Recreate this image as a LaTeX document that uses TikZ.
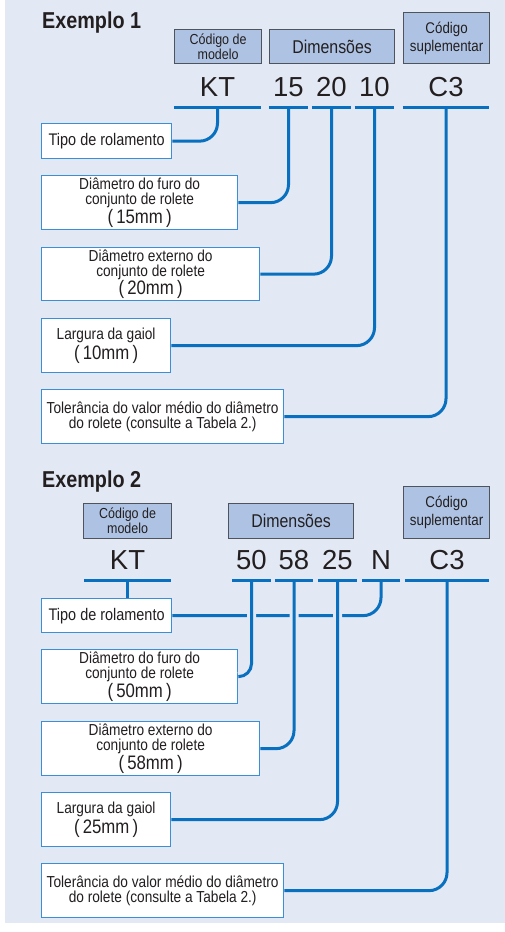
\documentclass[tikz,border=0pt]{standalone}
\usepackage{fontspec}
\setmainfont{Liberation Sans}
\newfontfamily\cond{Liberation Sans}[FakeStretch=0.86]
\definecolor{bgblue}{HTML}{E2E8F4}
\definecolor{hdrfill}{HTML}{AEC3E3}
\definecolor{hdrline}{HTML}{4F535A}
\definecolor{linkblue}{HTML}{0870BE}
\definecolor{boxblue}{HTML}{3B8FD6}
\definecolor{ink}{HTML}{231F20}
\newcommand\mmtext[1]{{\fontsize{19.5}{19.5}\selectfont(\,#1\,)}}

\tikzset{
  hdr/.style={draw=hdrline, fill=hdrfill, line width=1.2pt, inner sep=0pt, align=center,
    text=ink, anchor=north west, font=\cond\fontsize{14.5}{15}\selectfont},
  code/.style={anchor=base, inner xsep=0pt, inner ysep=11pt, text=ink,
    font=\fontsize{27.5}{27.5}\selectfont},
  uline/.style={linkblue, line width=3pt},
  conn/.style={linkblue, line width=3pt, rounded corners=18pt},
  gap/.style={preaction={draw=bgblue, line width=9pt}},
  lbl/.style={draw=boxblue, fill=white, line width=1.3pt, inner sep=0pt, align=center,
    anchor=north west, text=ink, font=\cond\fontsize{15.9}{15}\selectfont},
  title/.style={anchor=base west, inner sep=0pt, text=ink,
    font=\cond\bfseries\fontsize{23}{23}\selectfont}
}

\begin{document}
\begin{tikzpicture}[x=1pt, y=-1pt]
\useasboundingbox (0,0) rectangle (505,932);
%Background
\fill[bgblue] (5,0) rectangle (505,923);

%*** Exemplo 1 ***
\node[title] (ex1) at (42,28) {Exemplo 1};

%Header boxes
\node[hdr, minimum width=87, minimum height=34] (mod1) at (174,29) {Código de\\modelo};
\node[hdr, minimum width=125, minimum height=34, font=\cond\fontsize{18.5}{18}\selectfont] (dim1) at (269,29) {Dimensões};
\node[hdr, minimum width=86, minimum height=51, font=\cond\fontsize{15.5}{18}\selectfont] (sup1) at (403,12) {Código\\suplementar};

%Code
\node[code, minimum width=87] (kt1) at (217.5,96) {KT};
\node[code, minimum width=39] (n15) at (288.5,96) {15};
\node[code, minimum width=39] (n20) at (331.5,96) {20};
\node[code, minimum width=39] (n10) at (374.5,96) {10};
\node[code, minimum width=86] (c31) at (446,96) {C3};

%Labels
\node[lbl, minimum width=130, minimum height=35, font=\cond\fontsize{16.8}{16}\selectfont] (t1) at (41,123) {Tipo de rolamento};
\node[lbl, minimum width=196, minimum height=54] (f1) at (41,175) {Diâmetro do furo do\\conjunto de rolete\\\mmtext{15mm}};
\node[lbl, minimum width=218, minimum height=53] (e1) at (41,247) {Diâmetro externo do\\conjunto de rolete\\\mmtext{20mm}};
\node[lbl, minimum width=129, minimum height=54] (g1) at (41,318) {Largura da gaiol\\[2pt]\mmtext{10mm}};
\node[lbl, minimum width=242, minimum height=54] (s1) at (41,389) {Tolerância do valor médio do diâmetro\\do rolete (consulte a Tabela 2.)};

%Connectors
\draw[conn] (t1.east) -| (kt1.south);
\draw[conn] (f1.east) -| (n15.south);
\draw[conn] (e1.east) -| (n20.south);
\draw[conn] (g1.east) -| (n10.south);
\draw[conn] (s1.east) -| (c31.south);

%Underlines
\foreach \n in {kt1,n15,n20,n10,c31}
  \draw[uline] (\n.south west) -- (\n.south east);

%*** Exemplo 2 ***
\node[title] (ex2) at (42,487) {Exemplo 2};

%Header boxes
\node[hdr, minimum width=88, minimum height=35] (mod2) at (83,503) {Código de\\modelo};
\node[hdr, minimum width=125, minimum height=35, font=\cond\fontsize{18.5}{18}\selectfont] (dim2) at (228,503) {Dimensões};
\node[hdr, minimum width=86, minimum height=52, font=\cond\fontsize{15.5}{18}\selectfont] (sup2) at (403,486) {Código\\suplementar};

%Code
\node[code, minimum width=87] (kt2) at (127.5,569) {KT};
\node[code, minimum width=39] (n50) at (251.5,569) {50};
\node[code, minimum width=38] (n58) at (294,569) {58};
\node[code, minimum width=39] (n25) at (337.5,569) {25};
\node[code, minimum width=38] (nN) at (381,569) {N};
\node[code, minimum width=84] (c32) at (447,569) {C3};

%Labels
\node[lbl, minimum width=130, minimum height=34, font=\cond\fontsize{16.8}{16}\selectfont] (t2) at (41,598) {Tipo de rolamento};
\node[lbl, minimum width=196, minimum height=54] (f2) at (41,649) {Diâmetro do furo do\\conjunto de rolete\\\mmtext{50mm}};
\node[lbl, minimum width=218, minimum height=54] (e2) at (41,721) {Diâmetro externo do\\conjunto de rolete\\\mmtext{58mm}};
\node[lbl, minimum width=129, minimum height=54] (g2) at (41,792) {Largura da gaiol\\[2pt]\mmtext{25mm}};
\node[lbl, minimum width=242, minimum height=54] (s2) at (41,863) {Tolerância do valor médio do diâmetro\\do rolete (consulte a Tabela 2.)};

%Connectors
\draw[conn] (kt2.south) -- (kt2.south |- t2.north);
\draw[conn] (t2.east) -| (nN.south);
\draw[conn, gap, rounded corners=13pt] (f2.east) -| (n50.south);
\draw[conn, gap] (e2.east) -| (n58.south);
\draw[conn, gap] (g2.east) -| (n25.south);
\draw[conn] (s2.east) -| (c32.south);

%Underlines
\foreach \n in {kt2,n50,n58,n25,nN,c32}
  \draw[uline] (\n.south west) -- (\n.south east);
\end{tikzpicture}
\end{document}
